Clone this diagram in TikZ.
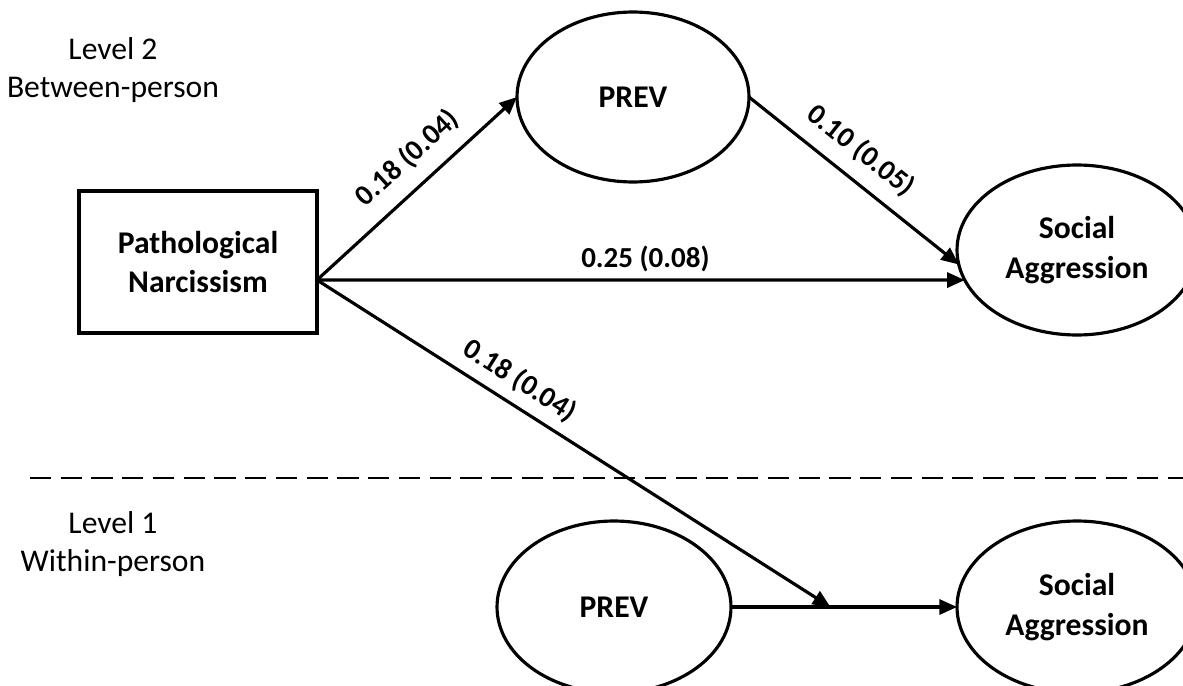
\documentclass[tikz,border=0pt]{standalone}
\usepackage{fontspec}
\setmainfont{Carlito}
\usetikzlibrary{shapes.geometric,arrows.meta,calc}

\begin{document}
\begin{tikzpicture}[
    x=0.02cm, y=-0.02cm,
    every node/.style={inner sep=0pt, outer sep=0pt},
    levelnote/.style={align=center, font=\fontsize{18}{21.5}\selectfont},
    obsbox/.style={draw, line width=1.9pt, rectangle, minimum width=4.76cm,
      minimum height=2.84cm, align=center,
      font=\bfseries\fontsize{18}{22.5}\selectfont},
    latent/.style={draw, line width=1.8pt, ellipse, align=center,
      font=\bfseries\fontsize{18}{22.5}\selectfont},
    pathline/.style={line width=1.8pt, -{Triangle[length=10pt,width=8.5pt]}},
    coef/.style={sloped, font=\bfseries\fontsize{16.5}{19}\selectfont},
    levelsplit/.style={line width=1.3pt, dash pattern=on 12pt off 5.5pt}
  ]
  \useasboundingbox (0,0) rectangle (1183,686);

  % level headings
  \node[levelnote] (lvtwo) at (113,70) {Level 2\\Between-person};
  \node[levelnote] (lvone) at (113,544) {Level 1\\Within-person};

  % between-person model
  \node[obsbox] (pn) at (198,262) {Pathological\\Narcissism};
  \node[latent, minimum width=4.64cm, minimum height=3.4cm] (prevB) at (633,97) {PREV};
  \node[latent, minimum width=4.8cm, minimum height=3.4cm] (saB) at (1077,250) {Social\\Aggression};

  % within-person model
  \node[latent, minimum width=4.68cm, minimum height=3.44cm] (prevW) at (614,607) {PREV};
  \node[latent, minimum width=4.8cm, minimum height=3.44cm] (saW) at (1077,607) {Social\\Aggression};

  % separator between the two levels
  \coordinate (splitL) at (30,478);
  \coordinate (splitR) at (1183,478);
  \draw[levelsplit] (splitL) -- (splitR);

  % common origin of the paths leaving Pathological Narcissism
  \coordinate (src) at ($(pn.east)+(0,18)$);
  % point where the cross-level path meets the within-person slope
  \coordinate (slope) at ($(prevW.east)!0.44!(saW.west)$);

  \draw[pathline] (src) -- (prevB.west)
    node[coef, pos=0.55, above=0.32cm] {0.18 (0.04)};
  \draw[pathline] (prevB.east) -- (saB.187)
    node[coef, pos=0.45, above=0.3cm] {0.10 (0.05)};
  \draw[pathline] (src) -- (saB.195)
    node[coef, pos=0.507, above=0.16cm] {0.25 (0.08)};
  \draw[pathline] (src) -- (slope)
    node[coef, pos=0.37, above=0.22cm] {0.18 (0.04)};
  \draw[pathline] (prevW.east) -- (saW.west);
\end{tikzpicture}
\end{document}
